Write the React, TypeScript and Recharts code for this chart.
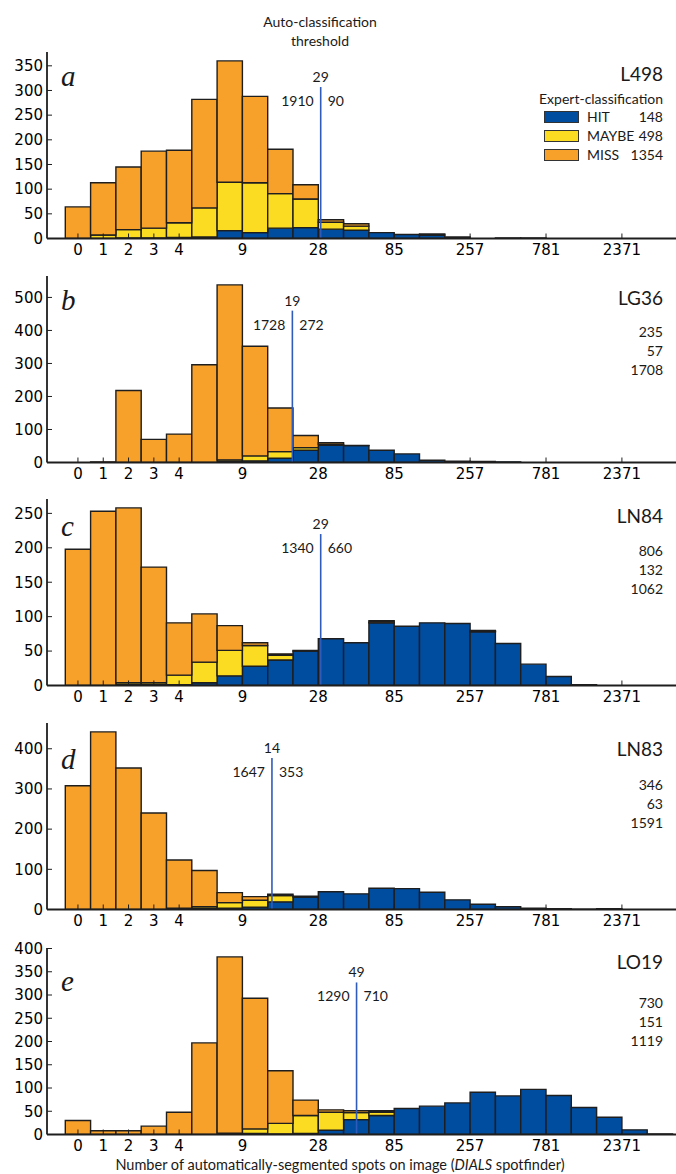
import React from "react";
import { BarChart, Bar, XAxis, YAxis, ReferenceLine } from "recharts";

// bin tick labels (0-4 are single-value bins, then log bins, 3 per tick)
const tickLabels = [0, 1, 2, 3, 4, 9, 28, 85, 257, 781, 2371];

// panel a - L498
const hitA = [0, 0, 1, 1, 2, 3, 16, 12, 21, 22, 19, 17, 12, 8, 7, 3, 0, 1, 1, 0, 0, 0, 0, 0];
const maybeA = [0, 7, 17, 20, 30, 59, 98, 101, 70, 58, 14, 8, 0, 0, 0, 0, 0, 0, 0, 0, 0, 0, 0, 0];
const missA = [64, 106, 127, 156, 147, 220, 246, 175, 90, 29, 5, 5, 0, 0, 2, 0, 0, 0, 0, 0, 0, 0, 0, 0];

// panel b - LG36
const hitB = [0, 0, 0, 0, 0, 0, 3, 5, 13, 37, 52, 51, 37, 26, 7, 4, 3, 2, 0, 0, 0, 0, 0, 0];
const maybeB = [0, 0, 0, 0, 0, 0, 5, 15, 20, 8, 3, 0, 0, 0, 0, 0, 0, 0, 0, 0, 0, 0, 0, 0];
const missB = [0, 2, 218, 70, 86, 296, 530, 332, 132, 37, 5, 1, 0, 0, 0, 0, 0, 0, 0, 0, 0, 0, 0, 0];

// panel c - LN84
const hitC = [0, 0, 1, 1, 1, 4, 14, 28, 37, 50, 68, 62, 91, 86, 91, 90, 78, 61, 31, 13, 1, 0, 0, 0];
const maybeC = [0, 0, 3, 3, 14, 30, 37, 30, 7, 0, 0, 0, 1, 0, 0, 0, 1, 0, 0, 0, 0, 0, 0, 0];
const missC = [198, 253, 254, 168, 76, 70, 36, 4, 2, 1, 0, 0, 2, 0, 0, 0, 1, 0, 0, 0, 0, 0, 0, 0];

// panel d - LN83
const hitD = [0, 0, 0, 0, 0, 2, 3, 6, 19, 31, 44, 39, 53, 52, 43, 24, 13, 7, 3, 2, 1, 2, 0, 0];
const maybeD = [0, 0, 0, 0, 3, 5, 14, 17, 16, 2, 0, 0, 0, 0, 0, 0, 0, 0, 0, 0, 0, 0, 0, 0];
const missD = [308, 442, 352, 240, 120, 90, 25, 9, 3, 0, 0, 0, 0, 0, 0, 0, 0, 0, 0, 0, 0, 0, 0, 0];

// panel e - LO19
const hitE = [0, 0, 0, 0, 0, 0, 2, 2, 1, 2, 9, 32, 41, 56, 61, 68, 91, 83, 97, 84, 58, 37, 10, 1];
const maybeE = [0, 0, 0, 0, 0, 0, 1, 10, 23, 39, 39, 15, 7, 0, 0, 0, 0, 0, 0, 0, 0, 0, 0, 0];
const missE = [30, 8, 8, 18, 48, 197, 379, 281, 113, 33, 5, 4, 3, 0, 0, 0, 0, 0, 0, 0, 0, 0, 0, 0];

const panelLetters = ["a", "b", "c", "d", "e"];
const panelNames = ["L498", "LG36", "LN84", "LN83", "LO19"];
const thresholds = [29, 19, 29, 14, 49];
const thresholdTops = [307, 460, 220, 377, 327];
const belowCounts = [1910, 1728, 1340, 1647, 1290];
const aboveCounts = [90, 272, 660, 353, 710];
const hitTotals = [148, 235, 806, 346, 730];
const maybeTotals = [498, 57, 132, 63, 151];
const missTotals = [1354, 1708, 1062, 1591, 1119];
const yTickSteps = [50, 100, 50, 100, 50];

const hits = [hitA, hitB, hitC, hitD, hitE];
const maybes = [maybeA, maybeB, maybeC, maybeD, maybeE];
const misses = [missA, missB, missC, missD, missE];

// layout
const FRAME_TOPS = [51.7, 275.7, 499.3, 723.4, 948];
const PLOT_H = 186.5;
const TOP_PAD = 10;
const XAXIS_H = 30;
const CHART_W = 680;
const Y_W = 47;
const BIN_W = 25.3;
const X_DOMAIN = [-0.723, 24.177];
const NAME_DY = [21.3, 21.6, 16, 24.4, 13.4];
const ROWS_DY = [65.6, 56.6, 52, 61.7, 55];
const LETTER_DY = [33, 33.5, 36, 45, 42];
const TEXT_RIGHT = 663;

const BLUE = "#004c9f";
const YELLOW = "#fcdc22";
const ORANGE = "#f7a02a";
const EDGE = "#1e1e1e";
const LINE_BLUE = "#2f5cbb";
const FONT = "Lato, 'Open Sans', sans-serif";
const TICK_FONT = { fill: "#000", fontSize: 15, fontFamily: "DejaVu Sans" };

const tickPos = tickLabels.map((v, i) => (i < 5 ? i + 0.5 : 7 + 3 * (i - 5)));

// position of a raw spot count on the bin axis
const countToPos = (v: number) => {
  for (let i = 5; i < tickLabels.length - 1; i++) {
    const a = tickLabels[i];
    const b = tickLabels[i + 1];
    if (v >= a && v <= b) {
      return tickPos[i] + 3 * (Math.log(v / a) / Math.log(b / a));
    }
  }
  return tickPos[5];
};

const ThresholdLabel = (props: any) => {
  const { viewBox, t, below, above } = props;
  const x = viewBox.x;
  const y = viewBox.y;
  return (
    <g fontFamily={FONT} fontSize={14} fill="#1a1a1a">
      <text x={x} y={y - 5} textAnchor="middle">
        {t}
      </text>
      <text x={x - 7} y={y + 19} textAnchor="end">
        {below}
      </text>
      <text x={x + 7} y={y + 19} textAnchor="start">
        {above}
      </text>
    </g>
  );
};

const Panel = ({ k }: { k: number }) => {
  const data = hits[k].map((h, i) => ({
    x: i + 0.5,
    hit: h,
    maybe: maybes[k][i],
    miss: misses[k][i],
  }));
  const maxTotal = Math.max(...data.map((d) => d.hit + d.maybe + d.miss));
  const yMax = maxTotal * 1.05;
  const yTicks: number[] = [];
  for (let v = 0; v <= yMax; v += yTickSteps[k]) yTicks.push(v);
  const tx = countToPos(thresholds[k]);
  const axisLine = { stroke: EDGE, strokeWidth: 1.8 };
  const tickLine = { stroke: EDGE, strokeWidth: 1 };

  return (
    <div style={{ position: "absolute", left: 0, top: FRAME_TOPS[k] - TOP_PAD }}>
      <BarChart
        width={CHART_W}
        height={TOP_PAD + PLOT_H + XAXIS_H}
        data={data}
        margin={{ top: TOP_PAD, right: 3, bottom: 0, left: 0 }}
      >
        <XAxis
          xAxisId="b"
          dataKey="x"
          type="number"
          domain={X_DOMAIN}
          allowDataOverflow
          ticks={tickPos}
          interval={0}
          tickFormatter={(v: number) => {
            const i = tickPos.findIndex((p) => Math.abs(p - v) < 0.01);
            return i >= 0 ? String(tickLabels[i]) : "";
          }}
          height={XAXIS_H}
          tickSize={-5}
          tickMargin={11}
          axisLine={axisLine}
          tickLine={tickLine}
          tick={TICK_FONT}
        />
        <XAxis
          xAxisId="t"
          orientation="top"
          dataKey="x"
          type="number"
          domain={X_DOMAIN}
          allowDataOverflow
          ticks={tickPos}
          interval={0}
          height={0}
          tickSize={-5}
          axisLine={axisLine}
          tickLine={tickLine}
          tick={false}
        />
        <YAxis
          yAxisId="l"
          type="number"
          domain={[0, yMax]}
          allowDataOverflow
          ticks={yTicks}
          interval={0}
          width={Y_W}
          tickSize={-5}
          tickMargin={9}
          axisLine={axisLine}
          tickLine={tickLine}
          tick={TICK_FONT}
        />
        <YAxis
          yAxisId="r"
          orientation="right"
          type="number"
          domain={[0, yMax]}
          allowDataOverflow
          ticks={yTicks}
          interval={0}
          width={0}
          tickSize={-5}
          axisLine={axisLine}
          tickLine={tickLine}
          tick={false}
        />
        <Bar xAxisId="b" yAxisId="l" dataKey="hit" stackId="s" fill={BLUE} stroke={EDGE} strokeWidth={1.4} barSize={BIN_W} isAnimationActive={false} />
        <Bar xAxisId="b" yAxisId="l" dataKey="maybe" stackId="s" fill={YELLOW} stroke={EDGE} strokeWidth={1.4} barSize={BIN_W} isAnimationActive={false} />
        <Bar xAxisId="b" yAxisId="l" dataKey="miss" stackId="s" fill={ORANGE} stroke={EDGE} strokeWidth={1.4} barSize={BIN_W} isAnimationActive={false} />
        <ReferenceLine
          xAxisId="b"
          yAxisId="l"
          segment={[
            { x: tx, y: 0 },
            { x: tx, y: thresholdTops[k] },
          ]}
          stroke={LINE_BLUE}
          strokeWidth={1.6}
          label={<ThresholdLabel t={thresholds[k]} below={belowCounts[k]} above={aboveCounts[k]} />}
        />
      </BarChart>
    </div>
  );
};

const txt = (extra: React.CSSProperties): React.CSSProperties => ({
  position: "absolute",
  fontFamily: FONT,
  color: "#1a1a1a",
  whiteSpace: "nowrap",
  lineHeight: 1,
  ...extra,
});

const PanelText = ({ k }: { k: number }) => {
  const top = FRAME_TOPS[k];
  const rows = [
    { label: "HIT", n: hitTotals[k], color: BLUE },
    { label: "MAYBE", n: maybeTotals[k], color: YELLOW },
    { label: "MISS", n: missTotals[k], color: ORANGE },
  ];
  const rowGap = 19;
  return (
    <>
      <div
        style={txt({
          left: 61,
          top: top + LETTER_DY[k],
          transform: "translateY(-80%)",
          fontFamily: "'Liberation Serif', serif",
          fontStyle: "italic",
          fontSize: 29,
        })}
      >
        {panelLetters[k]}
      </div>
      <div
        style={txt({
          right: 676 - TEXT_RIGHT,
          top: top + NAME_DY[k],
          transform: "translateY(-50%)",
          fontSize: 19,
        })}
      >
        {panelNames[k]}
      </div>
      {k === 0 && (
        <div
          style={txt({
            right: 676 - TEXT_RIGHT,
            top: top + ROWS_DY[k] - rowGap + 0.5,
            transform: "translateY(-50%)",
            fontSize: 14,
          })}
        >
          Expert-classification
        </div>
      )}
      {rows.map((r, i) => (
        <React.Fragment key={r.label}>
          {k === 0 && (
            <>
              <div
                style={{
                  position: "absolute",
                  left: 544,
                  top: top + ROWS_DY[k] + i * rowGap - 6,
                  width: 33,
                  height: 10,
                  background: r.color,
                  border: "1.3px solid #333",
                }}
              />
              <div
                style={txt({
                  left: 587,
                  top: top + ROWS_DY[k] + i * rowGap,
                  transform: "translateY(-50%)",
                  fontSize: 14,
                })}
              >
                {r.label}
              </div>
            </>
          )}
          <div
            style={txt({
              right: 676 - TEXT_RIGHT,
              top: top + ROWS_DY[k] + i * rowGap,
              transform: "translateY(-50%)",
              fontSize: 14,
            })}
          >
            {r.n}
          </div>
        </React.Fragment>
      ))}
    </>
  );
};

export default function App() {
  const ks = [0, 1, 2, 3, 4];
  return (
    <div
      style={{
        position: "absolute",
        left: 0,
        top: 0,
        width: 676,
        height: 1174,
        overflow: "hidden",
        background: "#fff",
      }}
    >
      {ks.map((k) => (
        <Panel key={k} k={k} />
      ))}
      {ks.map((k) => (
        <PanelText key={"t" + k} k={k} />
      ))}
      <div style={txt({ left: 320, top: 21.7, transform: "translate(-50%, -50%)", fontSize: 14, textAlign: "center" })}>
        Auto-classification
      </div>
      <div style={txt({ left: 320, top: 40.7, transform: "translate(-50%, -50%)", fontSize: 14, textAlign: "center" })}>
        threshold
      </div>
      <div style={txt({ left: 340, top: 1165, transform: "translate(-50%, -50%)", fontSize: 14.5 })}>
        Number of automatically-segmented spots on image (<i>DIALS</i> spotfinder)
      </div>
    </div>
  );
}
